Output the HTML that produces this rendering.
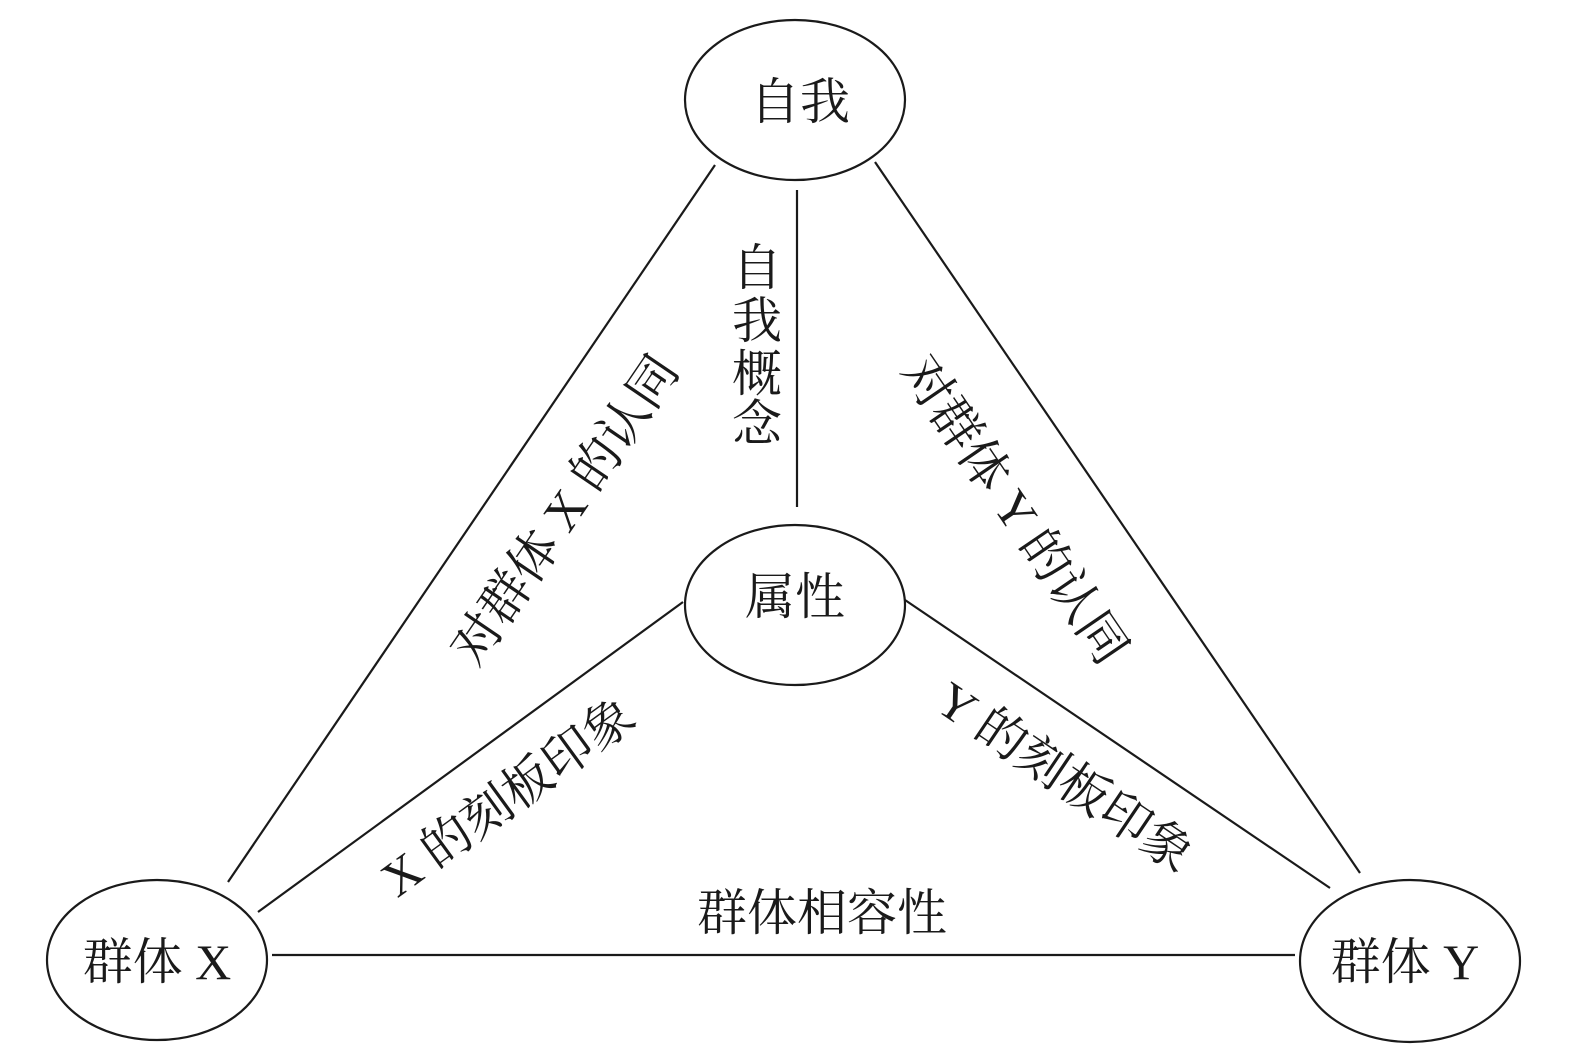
<!DOCTYPE html>
<html><head><meta charset="utf-8"><style>
html,body{margin:0;padding:0;background:#fff;}
svg{display:block;}
text{font-family:"Liberation Serif","Noto Serif CJK SC",serif;font-size:50px;fill:#1a1a1a;}
</style></head><body>
<svg width="1575" height="1051" viewBox="0 0 1575 1051" xmlns="http://www.w3.org/2000/svg">
<g fill="none" stroke="#1a1a1a" stroke-width="2.2">
<ellipse cx="795" cy="100" rx="110" ry="80"/>
<ellipse cx="795" cy="605" rx="110" ry="80"/>
<ellipse cx="157" cy="960" rx="110" ry="80"/>
<ellipse cx="1410" cy="961" rx="110" ry="81"/>
<line x1="797" y1="190" x2="797" y2="507"/>
<line x1="715" y1="165" x2="228" y2="882"/>
<line x1="875" y1="162" x2="1360" y2="873"/>
<line x1="683" y1="602" x2="258" y2="912"/>
<line x1="905" y1="600" x2="1330" y2="888"/>
<line x1="272" y1="955" x2="1295" y2="955"/>
</g>
<g text-anchor="middle" dominant-baseline="central">
<text x="800" y="102">自我</text>
<text x="795" y="597">属性</text>
<text x="157" y="962">群体 X</text>
<text x="1405" y="962">群体 Y</text>
<text x="822" y="913">群体相容性</text>
<text x="757" y="268">自</text>
<text x="757" y="321">我</text>
<text x="757" y="374">概</text>
<text x="757" y="424">念</text>
<text transform="translate(565,510) rotate(-55.8)">对群体 X 的认同</text>
<text transform="translate(1015,510) rotate(55.7)">对群体 Y 的认同</text>
<text transform="translate(508,797) rotate(-36)">X 的刻板印象</text>
<text transform="translate(1065,777) rotate(34)">Y 的刻板印象</text>
</g>
</svg>
</body></html>
